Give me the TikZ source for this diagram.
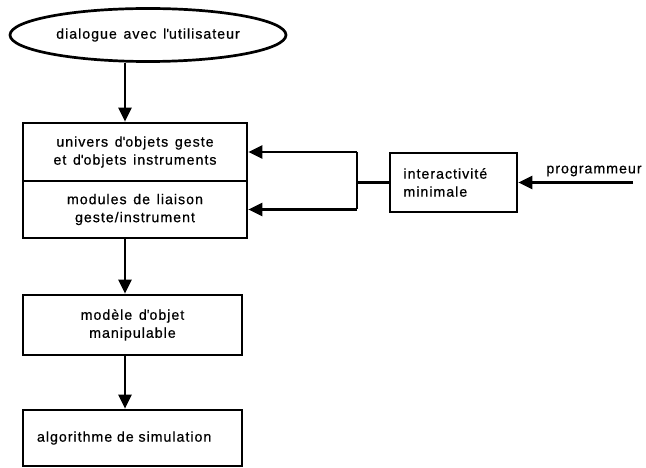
\documentclass[tikz,border=0pt]{standalone}
\usepackage{fontspec}
\setmainfont{Liberation Sans}[LetterSpace=7, FakeBold=0.6, WordSpace=1.35]
\usetikzlibrary{shapes.geometric,arrows.meta}
\newcommand\ap{\textquotesingle}
\begin{document}
\begin{tikzpicture}[x=1pt,y=-1pt,
  txt/.style={font=\fontsize{14.2}{18}\selectfont},
  box/.style={draw, line width=2.7pt, rectangle, inner sep=0pt, align=center, txt},
  arr/.style={line width=2.4pt, -{Triangle[length=14pt,width=13pt]}},
  conn/.style={line width=2.4pt}]
\useasboundingbox (0,0) rectangle (646,468);
\node[draw, line width=2.7pt, ellipse, minimum width=276pt, minimum height=53pt, inner sep=0pt, txt] (ell) at (148,35) {dialogue avec l\ap utilisateur};
\node[box, minimum width=224pt, minimum height=58pt] (b1) at (135,152) {univers d\ap objets geste\\et d\ap objets instruments};
\node[box, minimum width=224pt, minimum height=57pt] (b2) at (135,209.5) {modules de liaison\\geste/instrument};
\node[box, minimum width=127pt, minimum height=59pt, text width=100pt, inner xsep=13.5pt, align=left] (inter) at (453.5,182.5) {interactivité\\minimale};
\node[box, minimum width=219pt, minimum height=60pt] (b3) at (132.5,325) {modèle d\ap objet\\manipulable};
\node[box, minimum width=219pt, minimum height=56pt, text width=191pt, inner xsep=14pt, align=left] (b4) at (132.5,438) {algorithme de simulation};
\node[txt, inner sep=0pt] (prog) at (594,171) {programmeur};
\coordinate (cx) at (125,0);
\coordinate (j) at (357,0);
\coordinate (p) at (633,0);
\draw[arr] (ell.south -| cx) -- (b1.north -| cx);
\draw[arr] (b2.south -| cx) -- (b3.north -| cx);
\draw[arr] (b3.south -| cx) -- (b4.north -| cx);
\draw[conn] (inter.west) -- (inter.west -| j);
\draw[conn] (j |- b1.east) -- (j |- b2.east);
\draw[arr] (j |- b1.east) -- (b1.east);
\draw[arr] (j |- b2.east) -- (b2.east);
\draw[arr] (p |- inter.east) -- (inter.east);
\end{tikzpicture}
\end{document}
